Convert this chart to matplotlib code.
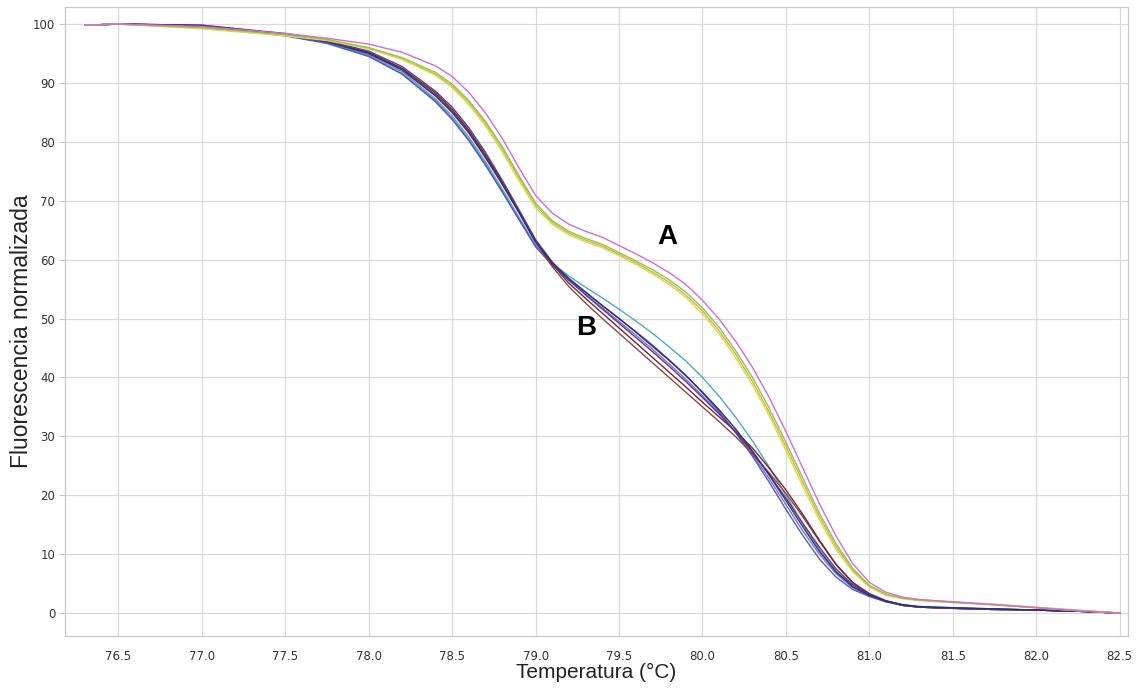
import matplotlib
matplotlib.use("Agg")
import matplotlib.pyplot as plt

# Temperature grid (°C)
T = [76.3, 76.5, 77.0, 77.5, 77.75, 78.0, 78.2, 78.4, 78.5, 78.6, 78.7, 78.8, 78.9, 79.0,
     79.1, 79.2, 79.3, 79.4, 79.5, 79.6, 79.7, 79.8, 79.9, 80.0, 80.1, 80.2, 80.3, 80.4,
     80.5, 80.6, 80.7, 80.8, 80.9, 81.0, 81.1, 81.2, 81.3, 81.5, 81.75, 82.0, 82.25, 82.5]

# Group A curves
A_magenta = [99.8, 100.0, 99.6, 98.4, 97.6, 96.6, 95.2, 92.9, 91.1, 88.4, 84.9, 80.6, 75.6, 70.9,
             67.9, 66.0, 64.8, 63.8, 62.4, 61.0, 59.5, 57.8, 55.8, 53.1, 49.9, 46.1, 41.7, 36.6,
             30.8, 24.7, 18.6, 13.1, 8.4, 5.2, 3.5, 2.7, 2.3, 1.9, 1.4, 0.9, 0.4, 0.0]
A_green = [99.8, 100.0, 99.4, 98.2, 97.4, 96.0, 94.3, 91.8, 89.8, 87.0, 83.5, 79.2, 74.3, 69.6,
           66.6, 64.8, 63.6, 62.6, 61.2, 59.8, 58.3, 56.6, 54.5, 51.8, 48.5, 44.5, 40.0, 34.8,
           29.0, 23.0, 17.0, 11.8, 7.6, 4.7, 3.2, 2.5, 2.2, 1.8, 1.4, 0.9, 0.4, 0.0]
A_yellow = [99.8, 100.0, 99.2, 98.0, 97.2, 95.8, 94.0, 91.3, 89.2, 86.3, 82.7, 78.3, 73.4, 68.8,
            66.0, 64.2, 63.0, 62.0, 60.7, 59.2, 57.6, 55.8, 53.6, 50.8, 47.4, 43.3, 38.7, 33.5,
            27.6, 21.6, 15.8, 10.8, 7.0, 4.4, 3.0, 2.4, 2.1, 1.8, 1.4, 0.9, 0.4, 0.0]
A_khaki = [99.8, 100.0, 99.3, 98.1, 97.3, 95.9, 94.1, 91.5, 89.5, 86.7, 83.1, 78.8, 73.9, 69.2,
           66.3, 64.5, 63.3, 62.3, 60.9, 59.5, 57.9, 56.2, 54.0, 51.3, 47.9, 43.9, 39.3, 34.1,
           28.3, 22.3, 16.4, 11.3, 7.3, 4.5, 3.1, 2.5, 2.2, 1.9, 1.5, 1.0, 0.5, 0.0]

# Group B curves
B_navy = [99.8, 100.0, 99.7, 98.2, 97.0, 95.0, 92.2, 87.8, 85.0, 81.5, 77.3, 72.8, 68.0, 63.0,
          59.5, 56.8, 54.5, 52.2, 50.0, 47.7, 45.3, 42.9, 40.3, 37.5, 34.5, 31.2, 27.5, 23.4,
          19.1, 14.7, 10.5, 7.0, 4.5, 3.0, 2.0, 1.4, 1.1, 0.9, 0.7, 0.5, 0.3, 0.0]
B_blue = [99.8, 100.0, 99.7, 98.0, 96.7, 94.5, 91.5, 86.8, 83.8, 80.2, 76.0, 71.5, 66.8, 62.2,
          59.0, 56.6, 54.4, 52.2, 50.0, 47.8, 45.5, 43.0, 40.4, 37.4, 34.2, 30.6, 26.6, 22.2,
          17.6, 13.2, 9.2, 6.1, 4.0, 2.8, 1.9, 1.3, 1.0, 0.8, 0.6, 0.5, 0.3, 0.0]
B_maroon = [99.8, 100.0, 99.8, 98.3, 97.1, 95.2, 92.5, 88.3, 85.5, 82.0, 77.8, 73.2, 68.3, 63.2,
            59.2, 56.0, 53.4, 50.9, 48.4, 45.9, 43.4, 40.9, 38.4, 35.8, 33.3, 30.8, 28.0, 24.6,
            20.9, 16.8, 12.4, 8.3, 5.2, 3.3, 2.1, 1.4, 1.0, 0.8, 0.7, 0.5, 0.3, 0.0]
B_teal = [99.8, 100.0, 99.7, 98.2, 96.9, 94.8, 91.9, 87.3, 84.4, 80.8, 76.6, 72.0, 67.2, 62.5,
          59.4, 57.2, 55.3, 53.5, 51.6, 49.6, 47.5, 45.2, 42.8, 40.0, 36.8, 33.2, 29.2, 24.8,
          20.0, 15.2, 10.8, 7.1, 4.5, 3.0, 2.0, 1.4, 1.1, 0.9, 0.7, 0.5, 0.3, 0.0]
B_violet = [99.8, 100.0, 99.6, 98.1, 96.8, 94.6, 91.6, 87.0, 84.0, 80.4, 76.2, 71.6, 66.9, 62.3,
            59.1, 56.5, 54.1, 51.8, 49.5, 47.2, 44.8, 42.3, 39.7, 36.9, 33.9, 30.6, 26.9, 22.8,
            18.4, 14.0, 10.0, 6.7, 4.3, 2.9, 1.9, 1.3, 1.0, 0.8, 0.6, 0.5, 0.3, 0.0]
B_purple = [99.8, 100.0, 99.8, 98.4, 97.2, 95.4, 92.8, 88.6, 85.9, 82.4, 78.2, 73.5, 68.5, 63.4,
            59.6, 56.5, 54.0, 51.6, 49.2, 46.8, 44.4, 41.9, 39.3, 36.6, 33.8, 30.7, 27.3, 23.5,
            19.5, 15.3, 11.2, 7.5, 4.8, 3.1, 2.0, 1.3, 1.0, 0.8, 0.6, 0.5, 0.3, 0.0]
B_brown = [99.8, 100.0, 99.7, 98.3, 97.0, 95.1, 92.3, 88.0, 85.2, 81.7, 77.5, 72.9, 68.1, 63.0,
           58.8, 55.4, 52.6, 50.0, 47.5, 45.0, 42.5, 40.0, 37.5, 35.0, 32.5, 29.9, 27.0, 23.8,
           20.3, 16.4, 12.2, 8.2, 5.1, 3.2, 2.0, 1.3, 1.0, 0.8, 0.6, 0.5, 0.3, 0.0]

x_ticks = [76.5, 77.0, 77.5, 78.0, 78.5, 79.0, 79.5, 80.0, 80.5, 81.0, 81.5, 82.0, 82.5]
y_ticks = [0, 10, 20, 30, 40, 50, 60, 70, 80, 90, 100]

series = [
    (B_teal, "#4fa9c0"), (B_violet, "#8a6cc4"), (B_blue, "#4a5fc0"), (B_brown, "#8b4a3a"),
    (B_maroon, "#7a2040"), (B_purple, "#5a3c8c"), (B_navy, "#2e2f7a"),
    (A_khaki, "#c9b25a"), (A_yellow, "#e3d44a"), (A_green, "#8ccc3c"), (A_magenta, "#d56ad8"),
]

fig = plt.figure(figsize=(11.4, 6.91), dpi=100)
ax = fig.add_axes([0.057, 0.0796, 0.9325, 0.9103])

for vals, col in series:
    ax.plot(T, vals, color=col, lw=1.0, solid_capstyle="round")

ax.set_xlim(76.18, 82.55)
ax.set_ylim(-3.9, 102.9)
ax.set_xticks(x_ticks)
ax.set_xticklabels([f"{v:.1f}" for v in x_ticks])
ax.set_yticks(y_ticks)
ax.grid(True, color="#d9d9d9", lw=0.9)
ax.set_axisbelow(True)
for s in ax.spines.values():
    s.set_color("#c8c8c8")
    s.set_linewidth(0.9)
ax.tick_params(axis="x", length=0, pad=10, labelsize=8.5, labelcolor="#333333")
ax.tick_params(axis="y", length=4, width=0.8, color="#c8c8c8", pad=3, labelsize=8.5,
               labelcolor="#333333")

ax.set_xlabel("Temperatura (°C)", fontsize=15, color="#222222", family="Liberation Sans")
ax.xaxis.set_label_coords(0.5, -0.043)
ax.set_ylabel("Fluorescencia normalizada", fontsize=16.5, color="#222222", family="Liberation Sans")
ax.yaxis.set_label_coords(-0.03, 0.484)

ax.text(79.79, 63.8, "A", fontsize=20, fontweight="bold", family="Liberation Sans",
        ha="center", va="center", color="black")
ax.text(79.30, 48.4, "B", fontsize=20, fontweight="bold", family="Liberation Sans",
        ha="center", va="center", color="black")

fig.savefig("out.png", dpi=100)
